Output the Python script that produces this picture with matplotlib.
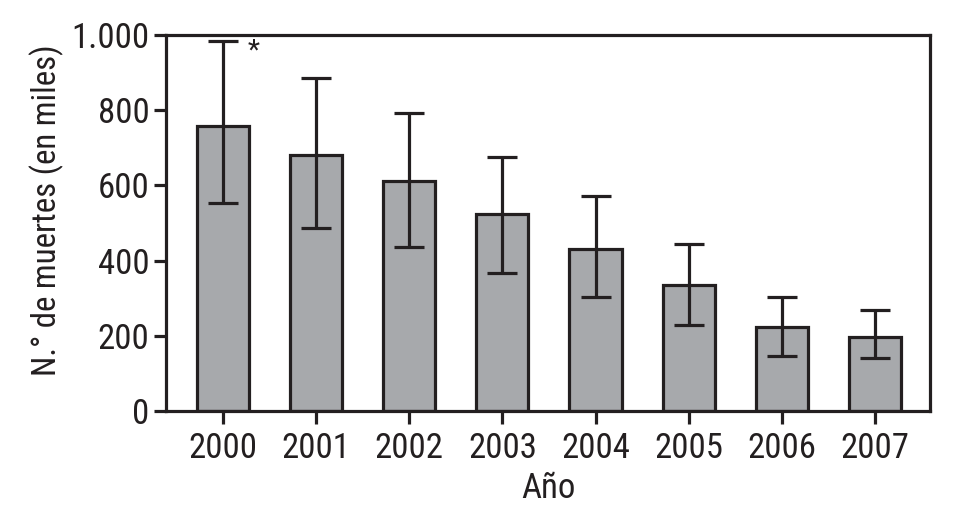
import matplotlib
matplotlib.use("Agg")
import matplotlib.pyplot as plt
from matplotlib import font_manager as fm
import numpy as np

years = ["2000", "2001", "2002", "2003", "2004", "2005", "2006", "2007"]
deaths = [757, 680, 611, 523, 432, 336, 224, 197]
err_upper = [984, 885, 792, 675, 571, 445, 304, 269]
err_lower = [552, 488, 435, 368, 304, 229, 147, 141]
yticks = [0, 200, 400, 600, 800, 1000]
ytick_labels = ["0", "200", "400", "600", "800", "1.000"]

installed = {f.name for f in fm.fontManager.ttflist}
candidates = ["Nimbus Sans Narrow", "Liberation Sans Narrow", "Arial Narrow",
              "Roboto Condensed", "Archivo Narrow", "PT Sans Narrow",
              "Open Sans Condensed", "IBM Plex Sans Condensed"]
chosen = [c for c in candidates if c in installed][:1]
plt.rcParams['font.family'] = chosen + ['DejaVu Sans']
ink = "#231f20"

fig = plt.figure(figsize=(9.54, 5.16), dpi=100)
ax = fig.add_axes([166/954, 1-411/516, (930-166)/954, (411-35)/516])

x = np.arange(len(years))
d = np.array(deaths)
yerr = [d - np.array(err_lower), np.array(err_upper) - d]
ax.bar(x, d, width=0.56, color="#a7a9ac", edgecolor=ink, linewidth=2.3, zorder=2)
ax.errorbar(x, d, yerr=yerr, fmt="none", ecolor=ink, elinewidth=2.3,
            capsize=10.5, capthick=2.3, zorder=3)

ax.text(0.33, 958, "*", fontsize=20, color=ink, ha="center", va="center")

ax.set_xlim(-0.61, 7.59)
ax.set_ylim(0, 1000)
ax.set_xticks(x)
ax.set_xticklabels(years)
ax.set_yticks(yticks)
ax.set_yticklabels(ytick_labels)
for s in ax.spines.values():
    s.set_linewidth(2.3)
    s.set_color(ink)
ax.tick_params(axis="both", direction="out", length=9, width=2.3, color=ink,
               labelsize=25, labelcolor=ink)
ax.tick_params(axis="x", pad=6)
ax.tick_params(axis="y", pad=3)
ax.set_xlabel("Año", fontsize=25, color=ink, labelpad=5)
ax.set_ylabel("N.° de muertes (en miles)", fontsize=23.7, color=ink)
ax.yaxis.set_label_coords(-0.133, 0.535)

fig.savefig("out.png", dpi=100)
